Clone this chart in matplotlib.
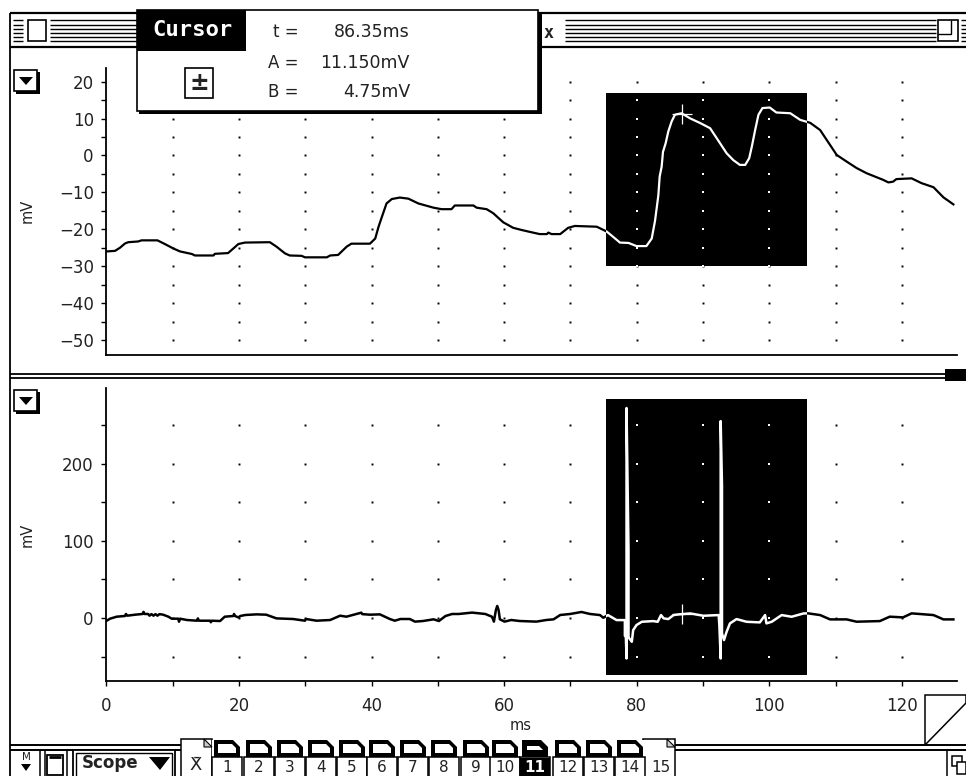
import numpy as np
import matplotlib
matplotlib.use("Agg")
import matplotlib.pyplot as plt
from matplotlib.patches import Rectangle, Polygon

W, H = 966, 776

# canal A
top_ms = [0.05, 1.30, 2.05, 2.8, 3.3, 4.8, 5.3, 7.7, 8.6, 10.1, 11.1, 12.9, 13.35, 16.15, 16.35, 18.35,
          19.15, 19.9, 20.9, 24.65, 25.65, 26.95, 27.65, 29.45, 29.95, 33.25, 33.75, 34.95, 36.25, 36.95,
          39.75, 40.55, 41.05, 41.55, 42.25, 43.05, 44.25, 45.55, 47.05, 49.35, 50.55, 52.05, 52.55, 55.35,
          55.85, 57.35, 58.35, 59.85, 61.35, 62.65, 63.85, 65.35, 66.45, 66.65, 67.15, 68.45, 69.65, 70.65,
          73.95, 75.45, 77.0, 77.45, 78.75, 79.95, 81.45, 82.25, 82.75, 83.25, 83.45, 83.75, 83.95, 84.35,
          84.75, 85.25, 85.75, 86.75, 88.05, 89.55, 91.05, 92.05, 93.55, 94.55, 95.55, 96.35, 96.95, 97.35,
          97.85, 98.35, 98.95, 100.05, 101.05, 103.15, 104.65, 106.15, 107.65, 108.65, 110.15, 111.65,
          113.15, 114.65, 117.15, 117.95, 118.65, 119.15, 121.45, 122.95, 124.75, 126.25, 127.75]
top_mv = [-26.0, -25.85, -25.0, -23.85, -23.5, -23.3, -23.0, -23.0, -23.8, -25.2, -26.0, -26.7, -27.1, -27.1,
          -26.65, -26.45, -25.2, -24.0, -23.6, -23.5, -24.7, -26.55, -27.1, -27.2, -27.6, -27.6, -27.1, -26.95,
          -24.7, -23.9, -23.9, -22.5, -19.3, -16.65, -13.0, -11.8, -11.4, -11.7, -13.0, -14.15, -14.55, -14.55,
          -13.55, -13.55, -14.15, -14.55, -15.65, -18.1, -19.6, -20.2, -20.7, -21.3, -21.3, -20.9, -21.3, -21.3,
          -19.6, -19.1, -19.3, -20.6, -22.9, -23.6, -23.7, -24.55, -24.55, -22.5, -17.7, -10.8, -5.7, -3.0, 1.0,
          3.3, 6.5, 9.2, 11.05, 11.45, 10.05, 8.8, 7.4, 4.7, 0.6, -1.25, -2.55, -2.55, -0.75, 2.4, 6.9, 11.05,
          12.85, 13.0, 11.65, 11.45, 9.65, 8.85, 6.9, 4.2, 0.15, -1.65, -3.4, -4.8, -6.6, -7.3, -7.1, -6.4, -6.2,
          -7.5, -8.6, -11.35, -13.25]

# canal B
bot_ms = [0.05, 0.55, 1.55, 2.8, 2.95, 3.15, 4.35, 5.45, 5.6, 5.75, 6.3, 6.5, 6.8, 7.1, 7.4, 7.7, 8.0, 8.55, 9.35,
          9.85, 10.85, 10.95, 11.1, 12.15, 13.65, 13.8, 13.95, 15.65, 15.75, 15.9, 17.15, 17.85, 19.15, 19.25,
          19.4, 19.9, 20.2, 20.95, 22.65, 24.1, 25.65, 28.15, 29.95, 30.1, 31.7, 33.75, 35.25, 36.2, 37.75, 38.45,
          38.6, 39.75, 41.25, 42.75, 43.5, 44.35, 45.75, 46.55, 47.75, 49.35, 50.15, 51.15, 52.15, 53.15, 55.15,
          57.15, 58.15, 58.45, 58.75, 58.95, 59.15, 59.35, 60.05, 61.05, 62.35, 64.85, 66.35, 67.45, 68.45, 69.95,
          71.65, 72.95, 74.45, 74.95, 75.65, 76.95, 78.2, 78.2, 78.35, 78.45, 78.45, 78.75, 78.75, 79.25, 79.45,
          79.95, 80.75, 82.45, 83.15, 83.65, 84.05, 84.75, 85.55, 86.25, 88.05, 90.05, 92.35, 92.45, 92.65, 92.65,
          92.85, 92.85, 93.15, 93.55, 94.05, 95.05, 96.55, 98.55, 99.35, 99.55, 100.35, 101.85, 103.35, 105.15,
          105.85, 107.65, 109.15, 111.65, 113.15, 116.65, 118.15, 120.15, 121.45, 124.75, 126.25, 127.75]
bot_mv = [-3.5, -0.9, 1.7, 2.6, 5.2, 3, 4.3, 5.2, 7.9, 5.2, 5.2, 3, 5, 3, 5, 3, 5, 4.3, 1.7,
          -0.9, -0.9, -4.8, -0.9, -2.6, -3.5, -0.5, -3.5, -3.5, -5.5, -3.5, -3.9, 1.7, 2.6, 5.2,
          2.6, 0.8, 2.6, 3.9, 4.7, 4.3, -0.5, -1.3, -3.5, -1.3, -3.5, -2.6, 3, 1.7, 5.2, 6.9,
          5, 4.3, 4.7, -1.3, -3.5, -1.3, -1.3, -4.7, -3.9, -1.7, -3.9, 2.6, 5.2, 5.2, 7,
          5.2, 1.7, -4.7, 10.4, 15.6, 10.4, -1.7, -4.7, -2.6, -3.9, -4.7, -2.6, -1.7, 3.9, 5.2,
          7.8, 5.2, 3.8, 0.3, 3.8, -2.7, -2.7, -23, -24, -52.4, 272, 88, -25, -30.8, -15.7,
          -9.2, -4.9, -4, -4.9, 3.8, -0.5, -1.4, 3.8, 4.6, 5.9, 2.9, 3.8, -9.2, -52.4, 255,
          171.4, -20, -28.6, -17.8, -7, -1.4, -4.9, -5.7, 3.8, -7, -4.9, 3.8, 1.6, 5.9,
          6, 3.8, -1.8, -1.8, -4.8, -4, 1.7, 0.8, 6, 3.8, -1.8, -1.8]

x_major = [0, 20, 40, 60, 80, 100, 120]
x_dots = [10, 20, 30, 40, 50, 60, 70, 80, 90, 100, 110, 120]
x_ticks = [0, 10, 20, 30, 40, 50, 60, 70, 80, 90, 100, 110, 120]
top_major = [20, 10, 0, -10, -20, -30, -40, -50]
top_dots = [20, 15, 10, 5, 0, -5, -10, -15, -20, -25, -30, -35, -40, -45, -50]
bot_major = [200, 100, 0]
bot_dots = [250, 200, 150, 100, 50, 0, -50]
select_ms = [75.3, 105.7]
top_select = [-29.9, 16.9]
bot_select = [-73.8, 283.7]
cursor_ms = 86.8
cursor_a = 11.15
cursor_b = 4.75
tab_names = ['1', '2', '3', '4', '5', '6', '7', '8', '9', '10', '11', '12', '13', '14']
tab_x = [227, 259, 290, 321, 352, 382, 413, 444, 476, 505, 535, 568, 599, 630]

plt.rcParams['font.family'] = 'DejaVu Sans'
plt.rcParams['text.color'] = '#222222'
fig = plt.figure(figsize=(W / 100, H / 100), dpi=100, facecolor='white')


def px_axes(l, t, r, b, z):
    a = fig.add_axes([l / W, 1 - b / H, (r - l) / W, (b - t) / H], zorder=z)
    a.patch.set_alpha(0)
    return a


def linea(a, xs, ys, lw=1.3, c='black'):
    a.plot(xs, ys, color=c, lw=lw, solid_capstyle='butt', solid_joinstyle='miter')


def caja(a, l, t, r, b, fc='white', ec='black', lw=1.2, z=2):
    a.add_patch(Rectangle((l, t), r - l, b - t, fc=fc, ec=ec, lw=lw, zorder=z))


# ventana de fondo
bg = px_axes(0, 0, W, H, 1)
bg.set_xlim(0, W)
bg.set_ylim(H, 0)
bg.axis('off')

linea(bg, [10, 10], [13, H])
linea(bg, [10, W], [13, 13], 1.6)
linea(bg, [10, W], [47, 47], 1.6)
for y in [20, 24.5, 28.5, 32.5, 36.7, 40.7]:
    linea(bg, [13, 23], [y, y], 1)
    linea(bg, [50, 137], [y, y], 1)
    linea(bg, [565, 936], [y, y], 1)
    linea(bg, [961, W], [y, y], 1)
caja(bg, 28, 20, 46, 41)
caja(bg, 938, 20, 958, 41)
linea(bg, [938, 951, 951], [34, 34, 20], 1)
bg.text(549, 33, 'x', fontsize=12, fontweight='bold', family='DejaVu Sans Mono', ha='center', va='center')

# separador
linea(bg, [10, 945], [374, 374])
linea(bg, [10, 945], [378, 378])
bg.add_patch(Rectangle((945, 369), 21, 12, fc='black', ec='none'))

# botones triangulo
for yb in [70, 390]:
    bg.add_patch(Rectangle((16, yb + 2), 24, 22, fc='black', ec='none', zorder=2))
    caja(bg, 14, yb, 37, yb + 21, z=3)
    bg.add_patch(Polygon([[19, yb + 7], [33, yb + 7], [26, yb + 15]], fc='black', ec='none', zorder=4))

bg.text(27, 211, 'mV', rotation=90, fontsize=10.5, ha='center', va='center')
bg.text(27, 535, 'mV', rotation=90, fontsize=10.5, ha='center', va='center')
bg.text(521, 726, 'ms', fontsize=10.5, ha='center', va='center')


def panel(t, b, ylim, ms, mv, major, dots, select, cursor_y, grosor):
    ax = px_axes(106.4, t, 957, b, 2)
    ax.set_xlim(0, (957 - 106.4) / 6.63)
    ax.set_ylim(*ylim)
    for s in ['top', 'right']:
        ax.spines[s].set_visible(False)
    for s in ['left', 'bottom']:
        ax.spines[s].set_linewidth(1.3)
    ax.set_yticks(major)
    ax.set_yticks(dots, minor=True)
    ax.tick_params(axis='y', which='both', length=3.6, width=1, direction='out', pad=5.5,
                   labelsize=12, labelcolor='#222222')
    gx, gy = np.meshgrid(x_dots, dots)
    ax.plot(gx.ravel(), gy.ravel(), ls='none', marker='s', ms=1.4, mew=0, color='black', zorder=1)
    ax.plot(ms, mv, color='black', lw=grosor, zorder=2, solid_joinstyle='round')
    # zona seleccionada, invertida
    rect = Rectangle((select_ms[0], select[0]), select_ms[1] - select_ms[0], select[1] - select[0],
                     fc='black', ec='none', zorder=3)
    ax.add_patch(rect)
    d, = ax.plot(gx.ravel(), gy.ravel(), ls='none', marker='s', ms=1.6, mew=0, color='white', zorder=4)
    d.set_clip_path(rect)
    l, = ax.plot(ms, mv, color='white', lw=grosor, zorder=5)
    l.set_clip_path(rect)
    ax.plot([cursor_ms], [cursor_y], ls='none', marker='+', ms=15, mew=0.9, color='white', zorder=6)
    return ax


ax1 = panel(68, 355, (-54.07, 23.71), top_ms, top_mv, top_major, top_dots, top_select, cursor_a, 1.6)
ax1.set_xticks([])

ax2 = panel(388, 681, (-81.6, 297.9), bot_ms, bot_mv, bot_major, bot_dots, bot_select, cursor_b, 1.8)
ax2.set_xticks(x_major)
ax2.set_xticks(x_ticks, minor=True)
ax2.tick_params(axis='x', which='both', length=3.6, width=1, direction='out', pad=8,
                labelsize=12, labelcolor='#222222')

# encima de todo: cursor y barra inferior
ov = px_axes(0, 0, W, H, 5)
ov.set_xlim(0, W)
ov.set_ylim(H, 0)
ov.axis('off')

ov.add_patch(Rectangle((139, 13), 403, 101, fc='black', ec='none', zorder=1))
caja(ov, 137, 10, 538, 111, z=2)
ov.add_patch(Rectangle((137, 10), 109, 41, fc='black', ec='none', zorder=3))
ov.text(192, 30, 'Cursor', color='white', fontsize=16, fontweight='bold', family='DejaVu Sans Mono',
        ha='center', va='center', zorder=4)
for y, name, val in [(32, 't =', '86.35ms'), (63, 'A =', '11.150mV'), (92, 'B =', '4.75mV')]:
    ov.text(299, y, name, fontsize=12, ha='right', va='center', zorder=4)
    ov.text(410, y, val, fontsize=12.5, ha='right', va='center', zorder=4)
caja(ov, 185, 68, 213, 98, z=4)
ov.text(199, 83, '±', fontsize=17, fontweight='bold', ha='center', va='center', zorder=5)

# esquina de redimension
ov.add_patch(Polygon([[925, 745], [925, 695], [W, 695], [W, 703]], fc='white', ec='black', lw=1.1, zorder=1))
linea(ov, [10, 181], [745, 745], 1.4)
linea(ov, [10, 181], [750, 750], 1.4)
linea(ov, [675, W], [745, 745], 1.4)
linea(ov, [675, W], [750, 750], 1.4)
linea(ov, [40, 40], [750, H], 1.1)
linea(ov, [45, 45], [750, H], 1.1)
linea(ov, [67, 67], [750, H], 1.1)
linea(ov, [947, 947], [750, H], 1.1)
ov.text(26, 757, 'M', fontsize=7.5, ha='center', va='center')
ov.add_patch(Polygon([[21, 764], [31, 764], [26, 771]], fc='black', ec='none'))
caja(ov, 47, 755, 63, 775, lw=1.3)
linea(ov, [49, 61], [757, 757], 2)
caja(ov, 73, 750, 175, H + 3, lw=1.3)
caja(ov, 76, 753, 172, H + 3, lw=1)
ov.text(110, 763, 'Scope', fontsize=12, fontweight='bold', ha='center', va='center', zorder=3)
ov.add_patch(Polygon([[149, 757], [170, 757], [160, 770]], fc='black', ec='none', zorder=3))
caja(ov, 952, 756, 962, 766, lw=1.1)
caja(ov, 957, 762, 966, 774, lw=1.1)

# pestanas
caja(ov, 181, 739, 212, H + 3, lw=1.1)
ov.add_patch(Polygon([[204, 739], [212, 747], [204, 747]], fc='#cccccc', ec='black', lw=0.8, zorder=3))
ov.text(196, 765, 'X\u0304', fontsize=13, ha='center', va='center', zorder=3)
caja(ov, 643, 739, 675, H + 3, lw=1.1)
ov.add_patch(Polygon([[667, 739], [675, 747], [667, 747]], fc='#cccccc', ec='black', lw=0.8, zorder=3))
ov.text(661, 767, '15', fontsize=11, ha='center', va='center', zorder=3)
for c, name in zip(tab_x, tab_names):
    sel = name == '11'
    # tapa blanca detras de la carpeta, la doble linea no pasa por aqui
    ov.add_patch(Rectangle((c - 15.5, 740), 31, 18, fc='white', ec='none', zorder=2))
    caja(ov, c - 15, 757, c + 15, H + 3, lw=1.1)
    ov.add_patch(Polygon([[c - 13, 740], [c + 6, 740], [c + 13, 747], [c + 13, 757], [c - 13, 757]],
                         fc='black', ec='none', zorder=3))
    if sel:
        ov.add_patch(Polygon([[c - 8, 746], [c + 4, 746], [c + 8, 750], [c - 8, 750]], fc='white', ec='none', zorder=4))
        ov.add_patch(Rectangle((c - 15, 758), 30, 18, fc='black', ec='none', zorder=3))
    else:
        ov.add_patch(Polygon([[c - 9, 744], [c + 5, 744], [c + 9, 748], [c + 9, 753], [c - 9, 753]], fc='white', ec='none', zorder=4))
    ov.text(c, 767, name, fontsize=11, color='white' if sel else '#222222', ha='center', va='center',
            fontweight='bold' if sel else 'normal', zorder=5)

fig.savefig('out.png', dpi=100, facecolor='white')
